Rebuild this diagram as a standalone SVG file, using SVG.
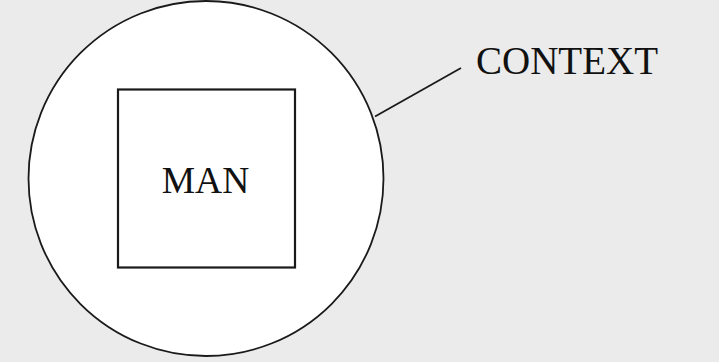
<svg xmlns="http://www.w3.org/2000/svg" width="719" height="362" viewBox="0 0 719 362">
<style>
.shape{fill:#ffffff;stroke:#1a1a1a}
.lbl{font-family:"Liberation Serif","Times New Roman",serif;fill:#111111}
.conn{stroke:#1a1a1a;stroke-width:1.8;fill:none}
</style>
<rect width="719" height="362" fill="#ebebeb"/>
<g id="context">
<circle class="shape" cx="206" cy="178.5" r="177.5" stroke-width="1.8"/>
</g>
<g id="man">
<rect class="shape" x="118" y="89.5" width="177" height="178" stroke-width="2.2"/>
<text class="lbl" x="205.5" y="193" font-size="37.5" text-anchor="middle">MAN</text>
</g>
<g id="connectors">
<line class="conn" x1="375" y1="116.5" x2="461" y2="68"/>
</g>
<g id="context-label">
<text class="lbl" x="476" y="74" font-size="39">CONTEXT</text>
</g>
</svg>
